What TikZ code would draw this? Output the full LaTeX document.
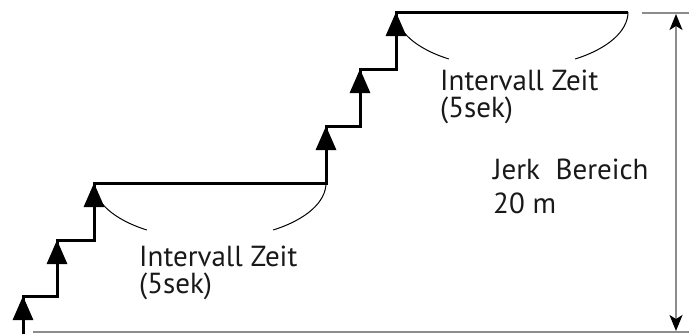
\documentclass[tikz,border=0pt]{standalone}
\usepackage{fontspec}
\setmainfont{PT Sans}
\usetikzlibrary{arrows.meta}
\begin{document}
\begin{tikzpicture}[x=1bp,y=-1bp,
  stair/.style={line width=3bp, line join=miter, line cap=butt, draw=black},
  stairtip/.style={-{Triangle[width=20bp,length=24bp]}},
  span/.style={line width=1bp, draw=black},
  guide/.style={line width=1.5bp, draw=black!45},
  guidetips/.style={{Stealth[width=13bp,length=16bp,inset=4bp,color=black]}-{Stealth[width=13bp,length=16bp,inset=4bp,color=black]}},
  lbl/.style={inner sep=0pt, anchor=base west, font=\fontsize{29bp}{29bp}\selectfont, text=black!90}]
\useasboundingbox (0,0) rectangle (689,334);
% staircase corners
\coordinate (s0) at (23,334);
\coordinate (s1) at (23,296);
\coordinate (s2) at (57,296);
\coordinate (s3) at (57,240);
\coordinate (s4) at (94,240);
\coordinate (s5) at (94,183);
\coordinate (s6) at (326,183);
\coordinate (s7) at (326,126);
\coordinate (s8) at (360,126);
\coordinate (s9) at (360,69);
\coordinate (s10) at (396,69);
\coordinate (s11) at (396,12);
\coordinate (s12) at (628,12);
% guides
\coordinate (gt1) at (642,13);
\coordinate (gt2) at (689,13);
\coordinate (gb1) at (33,332);
\coordinate (gb2) at (689,332);
\coordinate (ar1) at (676,14);
\coordinate (ar2) at (676,331);
% staircase
\draw[stair] (s0) -- (s1) -- (s2) -- (s3) -- (s4) -- (s5) -- (s6) -- (s7) -- (s8) -- (s9) -- (s10) -- (s11) -- (s12);
\draw[stair, stairtip] (s0) -- (s1);
\draw[stair, stairtip] (s2) -- (s3);
\draw[stair, stairtip] (s4) -- (s5);
\draw[stair, stairtip] (s6) -- (s7);
\draw[stair, stairtip] (s8) -- (s9);
\draw[stair, stairtip] (s10) -- (s11);
% interval arcs
\draw[span] (s5) arc[start angle=180, end angle=123, x radius=116, y radius=56];
\draw[span] (s6) arc[start angle=0, end angle=57, x radius=116, y radius=56];
\draw[span] (s11) arc[start angle=180, end angle=123, x radius=116, y radius=56];
\draw[span] (s12) arc[start angle=0, end angle=57, x radius=116, y radius=56];
% guide lines
\draw[guide] (gt1) -- (gt2);
\draw[guide] (gb1) -- (gb2);
\draw[guide, guidetips] (ar1) -- (ar2);
% labels
\node[lbl] (t1a) at (139,266) {Intervall Zeit};
\node[lbl] (t1b) at (139,293) {(5sek)};
\node[lbl] (t2a) at (440,90) {Intervall Zeit};
\node[lbl] (t2b) at (440,117) {(5sek)};
\node[lbl] (t3a) at (493,179) {Jerk\ \ Bereich};
\node[lbl] (t3b) at (493,213) {20 m};
\end{tikzpicture}
\end{document}
